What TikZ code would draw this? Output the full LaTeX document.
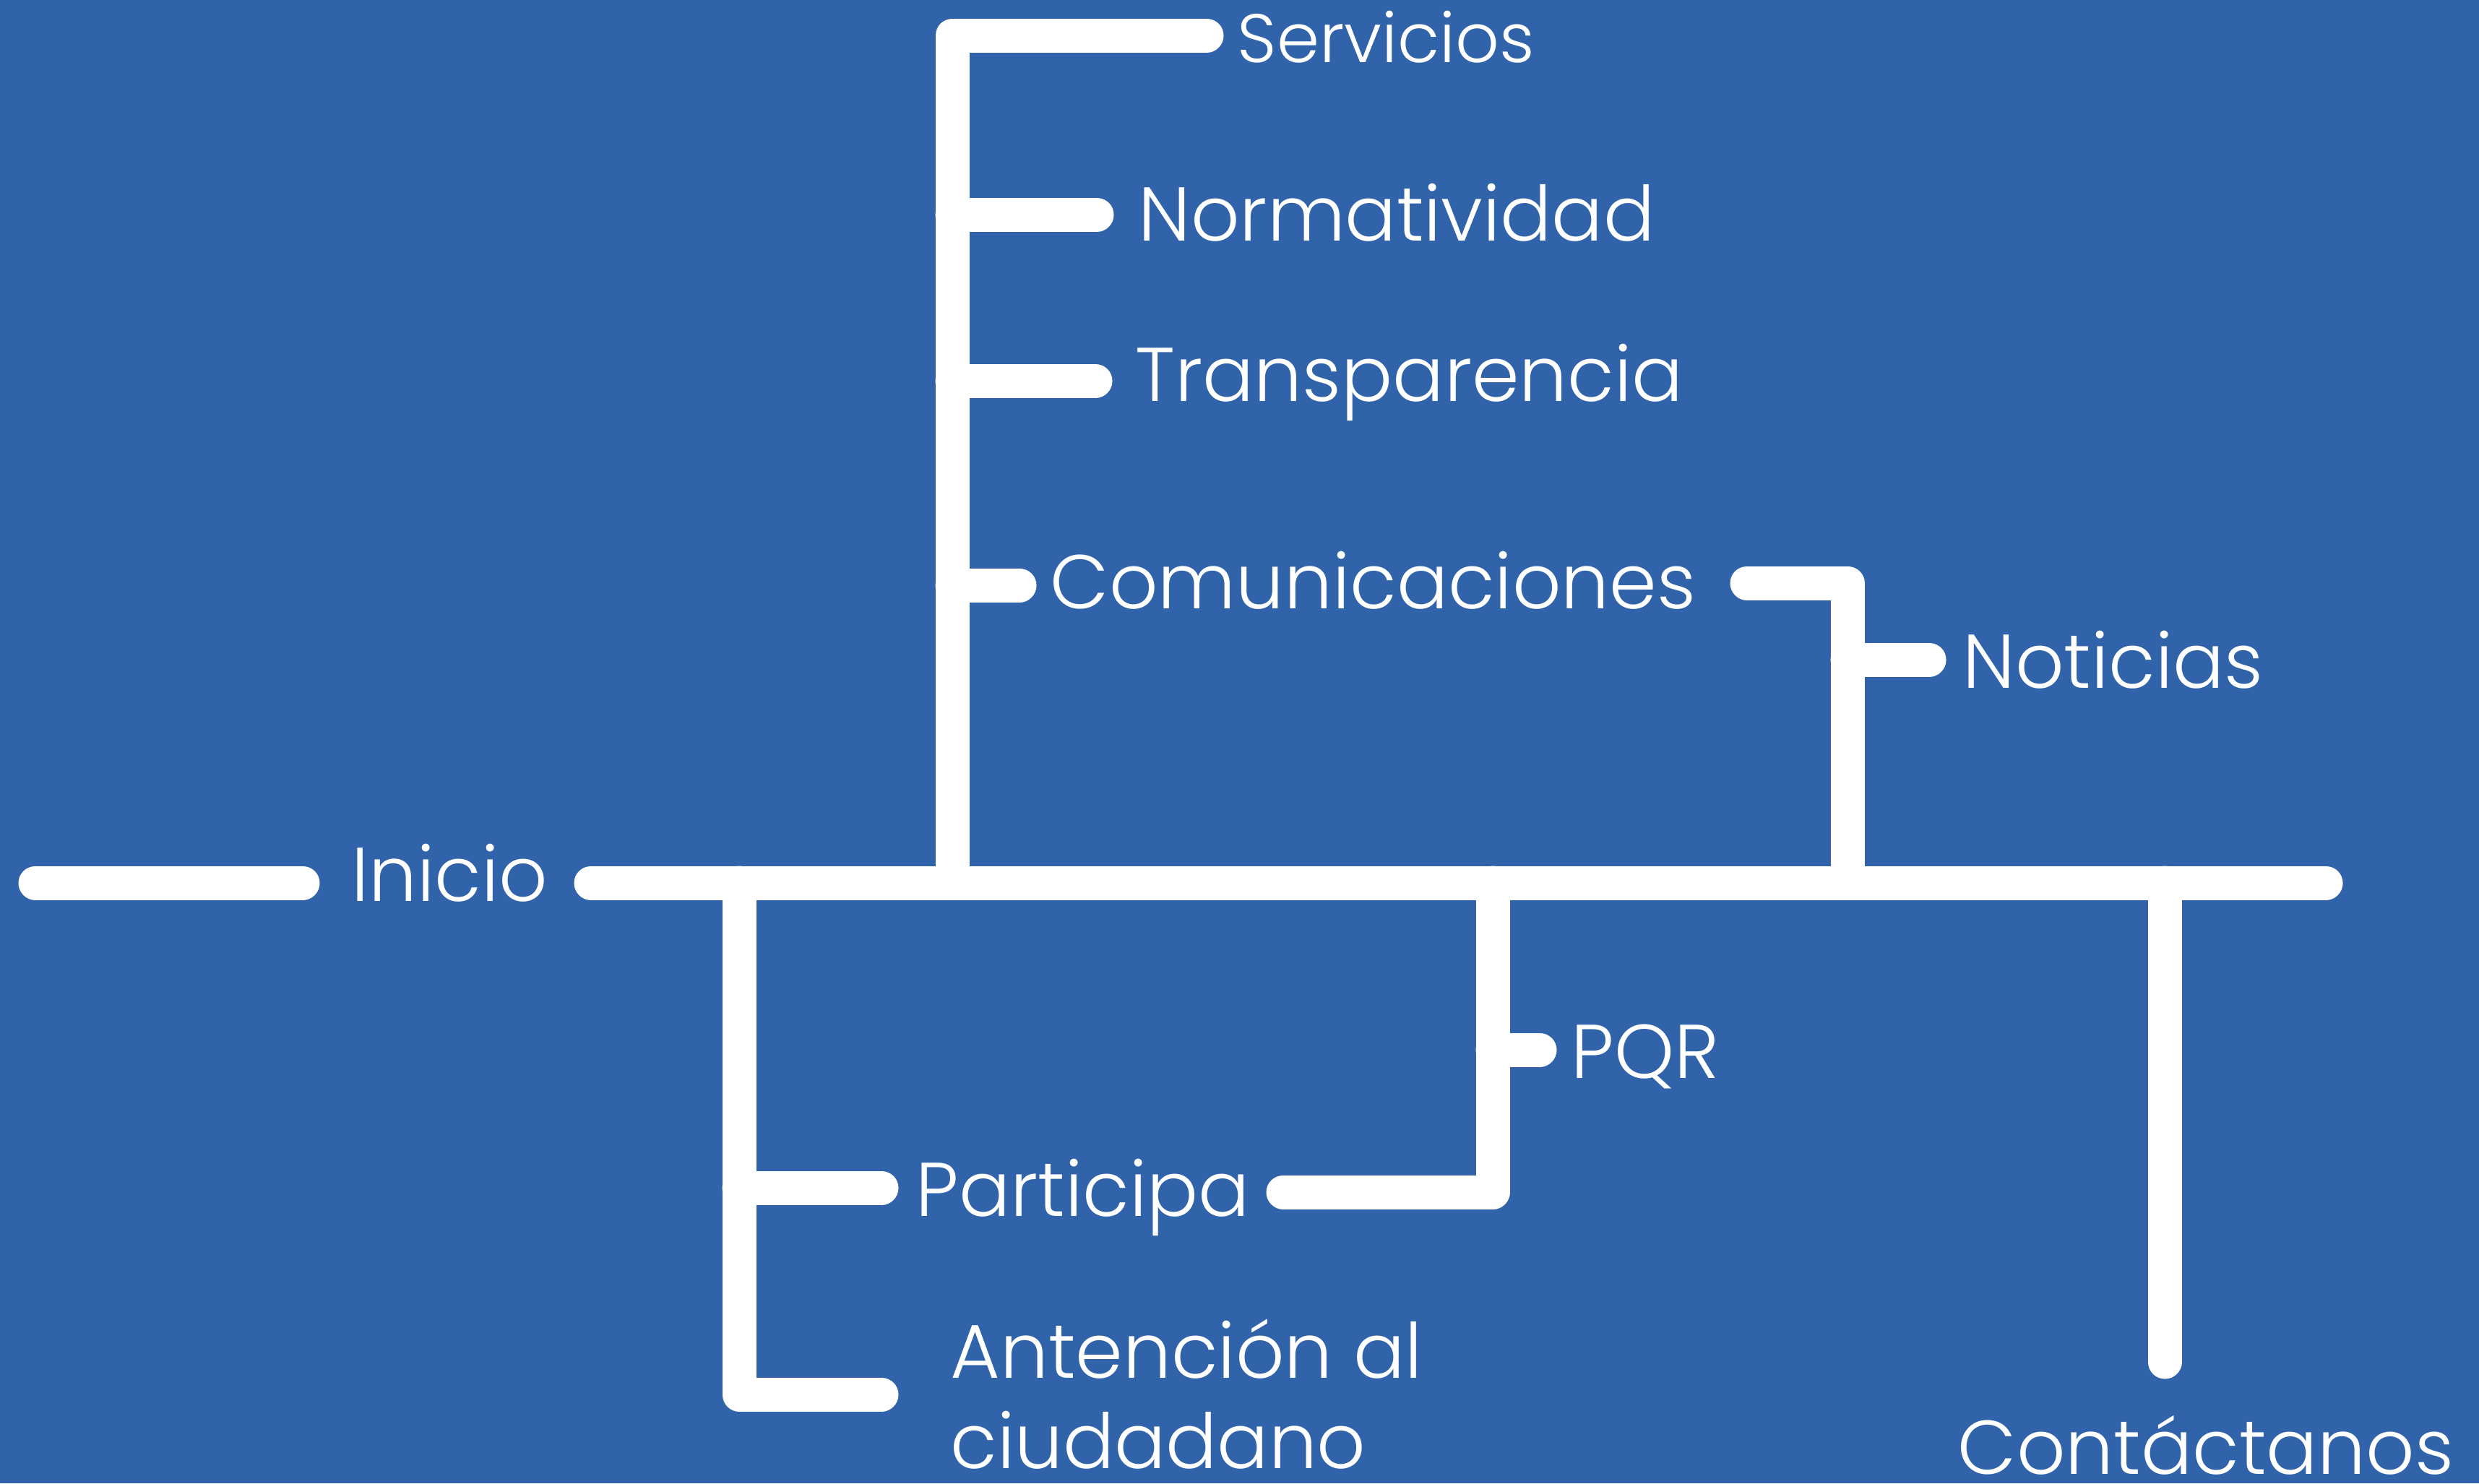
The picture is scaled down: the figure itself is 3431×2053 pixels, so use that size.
\documentclass[tikz,border=0pt]{standalone}
\usepackage{fontspec}
\IfFontExistsTF{Poppins Light}{\setmainfont{Poppins Light}}{\setmainfont{Poppins}}
\definecolor{bg}{RGB}{48,99,170}
\begin{document}
\begin{tikzpicture}[x=0.01cm,y=-0.01cm,
  wire/.style={draw=white,line width=0.47cm,line cap=round,line join=round},
  lab/.style={text=white,anchor=base west,inner sep=0pt,font=\fontsize{30}{36}\selectfont},
  smalllab/.style={lab,font=\fontsize{27}{32}\selectfont}]
\fill[bg] (0,0) rectangle (3431,2053);
\useasboundingbox (0,0) rectangle (3431,2053);
% coordinates
\coordinate (l1) at (49,1222); \coordinate (l2) at (419,1222);
\coordinate (m1) at (818,1222); \coordinate (m2) at (3219,1222);
\coordinate (sv) at (1670,49); \coordinate (tc) at (1318,49); \coordinate (tb) at (1318,1222);
\coordinate (n1) at (1318,297); \coordinate (n2) at (1518,297);
\coordinate (t1) at (1318,527); \coordinate (t2) at (1516,527);
\coordinate (c1) at (1318,810); \coordinate (c2) at (1411,810);
\coordinate (cr1) at (2418,807); \coordinate (cr2) at (2557,807); \coordinate (cr3) at (2557,1222);
\coordinate (no1) at (2557,913); \coordinate (no2) at (2670,913);
\coordinate (k1) at (2996,1222); \coordinate (k2) at (2996,1885);
\coordinate (a1) at (1023,1222); \coordinate (a2) at (1023,1930); \coordinate (a3) at (1220,1930);
\coordinate (p1) at (1023,1644); \coordinate (p2) at (1220,1644);
\coordinate (pr1) at (1776,1650); \coordinate (pr2) at (2066,1650); \coordinate (pr3) at (2066,1222);
\coordinate (q1) at (2066,1453); \coordinate (q2) at (2131,1453);
% wires
\draw[wire] (l1) -- (l2);
\draw[wire] (m1) -- (m2);
\draw[wire] (sv) -- (tc) -- (tb);
\draw[wire] (n1) -- (n2);
\draw[wire] (t1) -- (t2);
\draw[wire] (c1) -- (c2);
\draw[wire] (cr1) -- (cr2) -- (cr3);
\draw[wire] (no1) -- (no2);
\draw[wire] (k1) -- (k2);
\draw[wire] (a1) -- (a2) -- (a3);
\draw[wire] (p1) -- (p2);
\draw[wire] (pr1) -- (pr2) -- (pr3);
\draw[wire] (q1) -- (q2);
% labels
\node[lab] (inicio) at (486,1247) {Inicio};
\node[smalllab] (servicios) at (1712,86) {Servicios};
\node[lab] (normatividad) at (1575,333) {Normatividad};
\node[lab] (transparencia) at (1571,555) {Transparencia};
\node[lab] (comunicaciones) at (1453,842) {Comunicaciones};
\node[lab] (noticias) at (2716,952) {Noticias};
\node[lab] (pqr) at (2174,1492) {PQR};
\node[lab] (participa) at (1267,1683) {Participa};
\node[lab] (antencion) at (1315,1907) {Antención al};
\node[lab] (ciudadano) at (1315,2032) {ciudadano};
\node[lab] (contactanos) at (2709,2040) {Contáctanos};
\end{tikzpicture}
\end{document}
